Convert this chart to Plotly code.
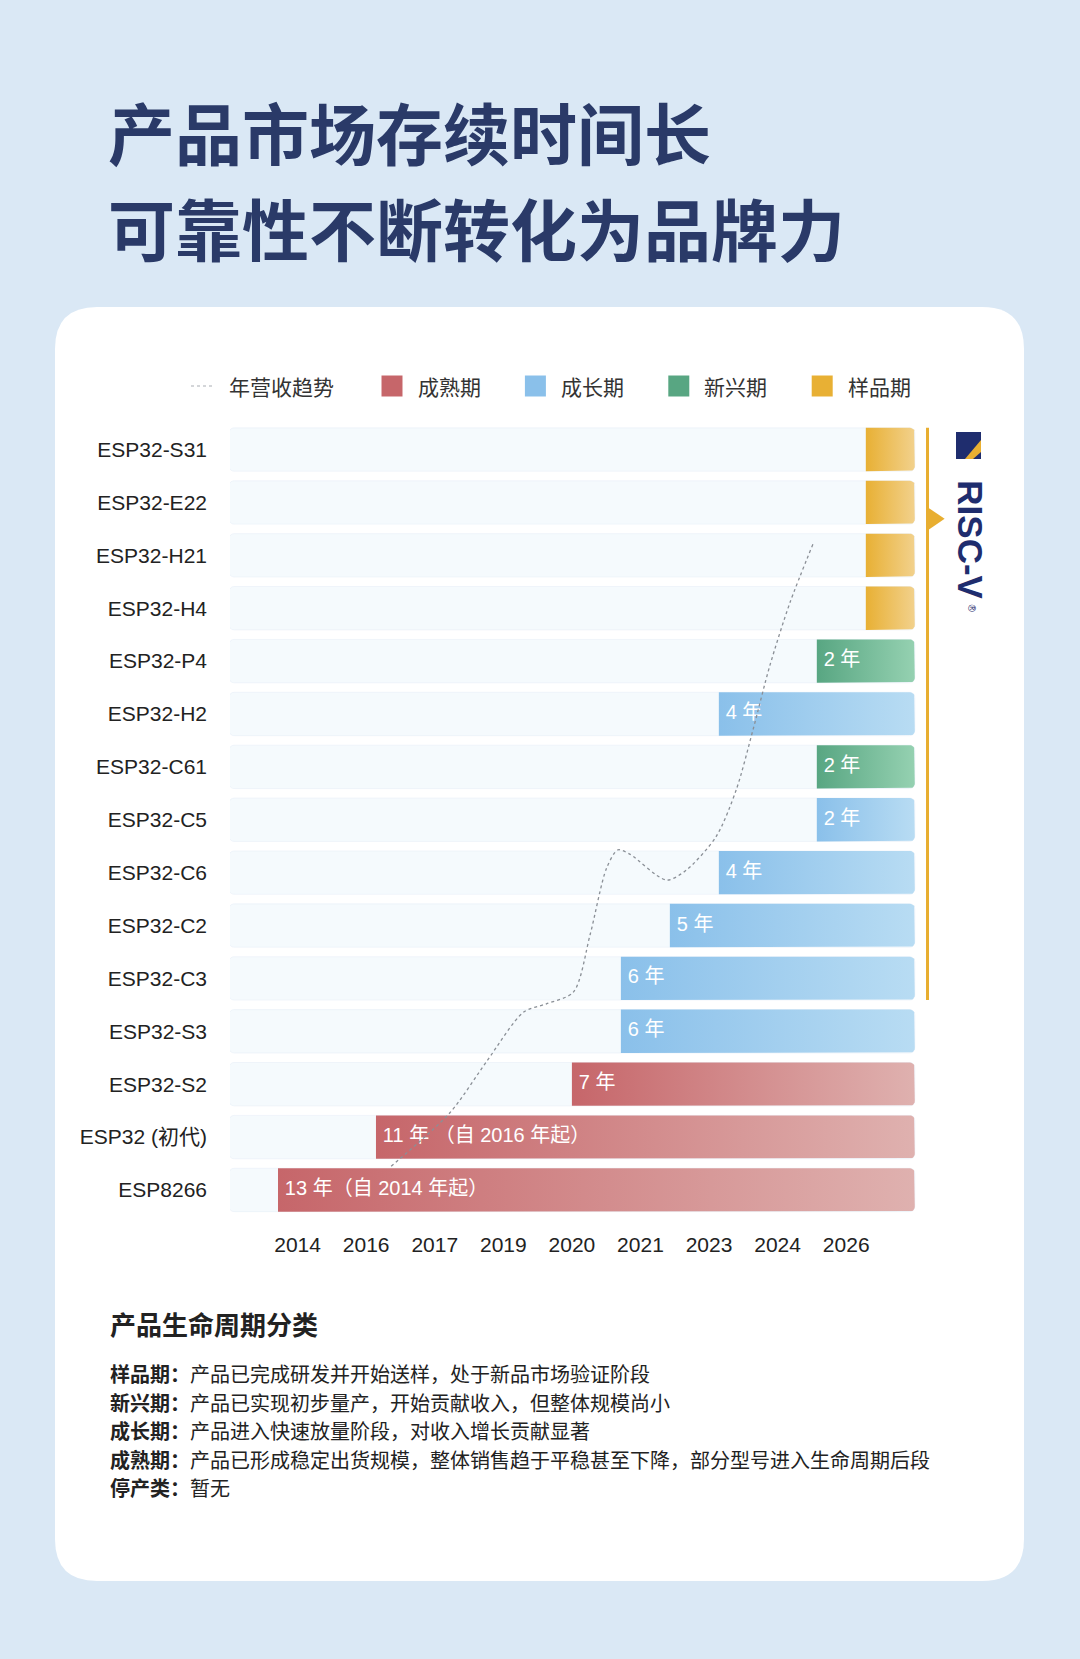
import math
import plotly.graph_objects as go

W, H = 1080, 1659
CJK = "Noto Sans CJK SC"
LATIN = "Liberation Sans, Noto Sans CJK SC"

# rows from bottom to top
products = ["ESP8266", "ESP32 (初代)", "ESP32-S2", "ESP32-S3", "ESP32-C3", "ESP32-C2",
            "ESP32-C6", "ESP32-C5", "ESP32-C61", "ESP32-H2", "ESP32-P4",
            "ESP32-H4", "ESP32-H21", "ESP32-E22", "ESP32-S31"]
start_year = [2014, 2016, 2020, 2021, 2021, 2022, 2023, 2025, 2025, 2023, 2025, 2026, 2026, 2026, 2026]
years = [13, 11, 7, 6, 6, 5, 4, 2, 2, 4, 2, 1, 1, 1, 1]
stage = ["成熟期", "成熟期", "成熟期", "成长期", "成长期", "成长期", "成长期", "成长期",
         "新兴期", "成长期", "新兴期", "样品期", "样品期", "样品期", "样品期"]
bar_text = ["13 年（自 2014 年起）", "11 年 （自 2016 年起）", "7 年", "6 年", "6 年", "5 年",
            "4 年", "2 年", "2 年", "4 年", "2 年", "", "", "", ""]
riscv = [False, False, False, False, True, True, True, True, True, True, True, True, True, True, True]

stage_names = ["成熟期", "成长期", "新兴期", "样品期"]
stage_left = ["#c6666a", "#8ac0ea", "#58a682", "#e8b034"]
stage_right = ["#dfb1af", "#b8dcf3", "#95d1b1", "#f2d18c"]

tick_vals = [2014.4, 2015.8, 2017.2, 2018.6, 2020.0, 2021.4, 2022.8, 2024.2, 2025.6]
tick_text = ["2014", "2016", "2017", "2019", "2020", "2021", "2023", "2024", "2026"]

# revenue trend (relative level)
trend_year = [2016.31, 2017.51, 2018.26, 2019.01, 2019.48, 2020.03, 2020.37, 2020.71, 2020.94,
              2021.18, 2021.93, 2022.34, 2022.95, 2023.36, 2023.70, 2024.04, 2024.45, 2024.92]
trend_level = [0.45, 1.46, 2.43, 3.36, 3.52, 3.74, 4.82, 6.09, 6.43,
               6.35, 5.86, 6.05, 6.69, 7.58, 8.71, 9.91, 11.10, 12.21]

desc_label = ["样品期：", "新兴期：", "成长期：", "成熟期：", "停产类："]
desc_text = ["产品已完成研发并开始送样，处于新品市场验证阶段",
             "产品已实现初步量产，开始贡献收入，但整体规模尚小",
             "产品进入快速放量阶段，对收入增长贡献显著",
             "产品已形成稳定出货规模，整体销售趋于平稳甚至下降，部分型号进入生命周期后段",
             "暂无"]


def px(x):
    return x / W


def py(y):
    return 1 - y / H


rows = list(range(len(products)))
BW = 0.82
track_start, track_end = 2013.0, 2027.0
# corner radius of the bars' right end, in axis units (~5 px)
RX, RY = 0.1, 0.095

fig = go.Figure()

# light background tracks
fig.add_trace(go.Bar(y=rows, x=[track_end - track_start] * len(rows), base=track_start,
                     orientation="h", width=BW, marker=dict(color="#f5fafd", cornerradius=5),
                     hoverinfo="skip", showlegend=False))

# gradient bars, rounded on the right end
for i in rows:
    k = stage_names.index(stage[i])
    s, e = start_year[i], start_year[i] + years[i]
    lo, hi = i - BW / 2, i + BW / 2
    xs, ys = [s, e - RX], [lo, lo]
    for t in range(1, 7):
        a = -math.pi / 2 + t * math.pi / 12
        xs.append(e - RX + RX * math.cos(a))
        ys.append(lo + RY + RY * math.sin(a))
    for t in range(0, 7):
        a = t * math.pi / 12
        xs.append(e - RX + RX * math.cos(a))
        ys.append(hi - RY + RY * math.sin(a))
    xs += [s, s]
    ys += [hi, lo]
    fig.add_trace(go.Scatter(
        x=xs, y=ys, mode="lines", fill="toself", line=dict(width=0, color="rgba(0,0,0,0)"),
        fillgradient=dict(type="horizontal", colorscale=[[0, stage_left[k]], [1, stage_right[k]]]),
        hoverinfo="skip", showlegend=False))

fig.add_trace(go.Scatter(x=[s + 0.14 for s in start_year], y=rows, mode="text", text=bar_text,
                         textposition="middle right",
                         textfont=dict(family=LATIN, size=20, color="white"),
                         hoverinfo="skip", showlegend=False))

fig.add_trace(go.Scatter(x=trend_year, y=trend_level, mode="lines",
                         line=dict(color="#8a8f96", width=1.3, dash="dot", shape="spline", smoothing=0.8),
                         hoverinfo="skip", showlegend=False))

shapes = []
# white card
x0, x1, y0, y1 = px(55), px(1024), py(1581), py(307)
rx, ry = 42 / W, 42 / H
shapes.append(dict(
    type="path", xref="paper", yref="paper", layer="below", fillcolor="white", line=dict(width=0),
    path=(f"M {x0+rx},{y0} L {x1-rx},{y0} Q {x1},{y0} {x1},{y0+ry} L {x1},{y1-ry} Q {x1},{y1} {x1-rx},{y1} "
          f"L {x0+rx},{y1} Q {x0},{y1} {x0},{y1-ry} L {x0},{y0+ry} Q {x0},{y0} {x0+rx},{y0} Z")))

# RISC-V bracket
rv_rows = [i for i in rows if riscv[i]]
shapes.append(dict(type="line", xref="x", yref="y", x0=2027.26, x1=2027.26,
                   y0=min(rv_rows) - BW / 2, y1=max(rv_rows) + BW / 2,
                   line=dict(color="#e8ae30", width=3)))
shapes.append(dict(type="path", xref="x", yref="y", fillcolor="#e8ae30", line=dict(width=0),
                   path="M 2027.26,12.47 L 2027.61,12.69 L 2027.26,12.91 Z"))
# RISC-V mark
shapes.append(dict(type="rect", xref="paper", yref="paper", x0=px(956), x1=px(981), y0=py(459), y1=py(432),
                   fillcolor="#1f2d6e", line=dict(width=0)))
shapes.append(dict(type="path", xref="paper", yref="paper", fillcolor="#eab032", line=dict(width=0),
                   path=f"M {px(965)},{py(459)} L {px(981)},{py(440)} L {px(981)},{py(452)} L {px(973)},{py(459)} Z"))

# legend
shapes.append(dict(type="line", xref="paper", yref="paper", x0=px(191), x1=px(213), y0=py(386), y1=py(386),
                   line=dict(color="#a9adb3", width=1.2, dash="dot")))
annotations = [dict(xref="paper", yref="paper", x=px(227), y=py(386), xanchor="left", yanchor="middle",
                    text="年营收趋势", showarrow=False, font=dict(family=CJK, size=21, color="#333333"))]
for k, name in enumerate(stage_names):
    lx = 381.5 + k * 143.4
    shapes.append(dict(type="rect", xref="paper", yref="paper", x0=px(lx), x1=px(lx + 21),
                       y0=py(396.5), y1=py(375.5), fillcolor=stage_left[k], line=dict(width=0)))
    annotations.append(dict(xref="paper", yref="paper", x=px(lx + 34), y=py(386), xanchor="left",
                            yanchor="middle", text=name, showarrow=False,
                            font=dict(family=CJK, size=21, color="#333333")))

# titles
annotations.append(dict(xref="paper", yref="paper", x=px(106), y=py(131), xanchor="left", yanchor="middle",
                        text="产品市场存续时间长", showarrow=False,
                        font=dict(family=CJK, size=67, color="#2a3a68", weight=700)))
annotations.append(dict(xref="paper", yref="paper", x=px(106), y=py(227), xanchor="left", yanchor="middle",
                        text="可靠性不断转化为品牌力", showarrow=False,
                        font=dict(family=CJK, size=67, color="#2a3a68", weight=700)))

annotations.append(dict(xref="x", yref="y", x=2028.13, y=12.3, text="<b>RISC-V</b>", textangle=90,
                        showarrow=False, font=dict(family="Liberation Sans", size=35, color="#1f2d6e")))
annotations.append(dict(xref="paper", yref="paper", x=px(979), y=py(608), text="®", textangle=90,
                        showarrow=False, font=dict(family="Liberation Sans", size=10, color="#1f2d6e")))

# lifecycle notes
annotations.append(dict(xref="paper", yref="paper", x=px(108), y=py(1323), xanchor="left", yanchor="middle",
                        text="产品生命周期分类", showarrow=False,
                        font=dict(family=CJK, size=26, color="#222222", weight=700)))
for j, (lab, txt) in enumerate(zip(desc_label, desc_text)):
    annotations.append(dict(xref="paper", yref="paper", x=px(108), y=py(1373.5 + j * 28.5),
                            xanchor="left", yanchor="middle", showarrow=False,
                            text=f"<b>{lab}</b>{txt}",
                            font=dict(family=CJK, size=20, color="#222222")))

fig.update_layout(
    width=W, height=H,
    margin=dict(l=0, r=0, t=0, b=0),
    paper_bgcolor="#dae8f5", plot_bgcolor="rgba(0,0,0,0)",
    hovermode=False, showlegend=False, barmode="overlay",
    shapes=shapes, annotations=annotations,
    xaxis=dict(domain=[px(230), px(1000)], range=[2013.02, 2028.74], showgrid=False, zeroline=False,
               showline=False, ticks="", tickvals=tick_vals, ticktext=tick_text, automargin=False,
               ticklabelstandoff=14, tickfont=dict(family=LATIN, size=21, color="#222222")),
    yaxis=dict(domain=[py(1216.4), py(423.1)], range=[-0.5, 14.5], showgrid=False, zeroline=False,
               showline=False, ticks="", tickvals=rows, ticktext=products, automargin=False,
               ticklabelstandoff=22, tickfont=dict(family=LATIN, size=21, color="#222222")),
)

fig.write_html("out.html", config={"displayModeBar": False},
               post_script="document.body.style.margin='0';document.body.style.overflow='hidden';")
